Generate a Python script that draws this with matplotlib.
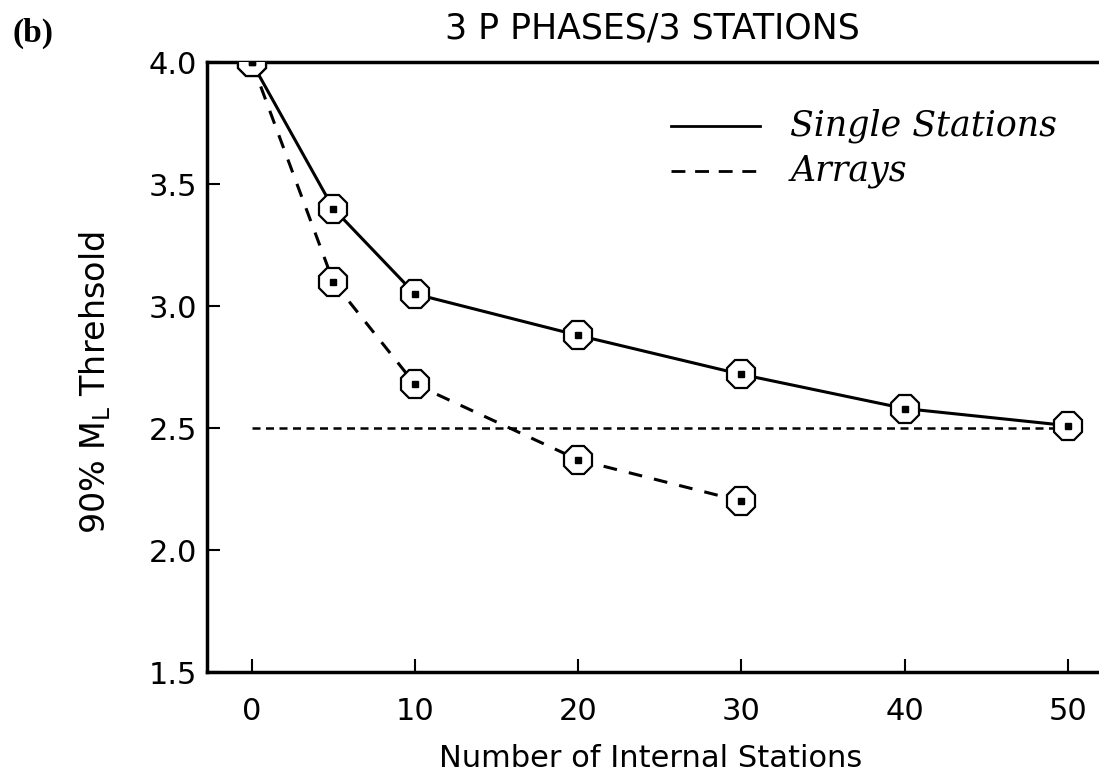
import numpy as np
import matplotlib.pyplot as plt

# values
single_x = [0, 5, 10, 20, 30, 40, 50]
single_y = [4.0, 3.40, 3.05, 2.88, 2.72, 2.58, 2.51]
array_x = [0, 5, 10, 20, 30]
array_y = [4.0, 3.10, 2.68, 2.37, 2.20]
ref_x = [0, 50]
ref_y = [2.5, 2.5]

fig = plt.figure(figsize=(10.99, 7.72), dpi=100)
ax = fig.add_axes([0.188, 0.1295, 0.812, 0.790])

ax.plot(ref_x, ref_y, color="black", lw=1.8, ls=(0, (3.2, 2.2)), zorder=1)
ax.plot(single_x, single_y, color="black", lw=2.2, zorder=2, label="Single Stations")
ax.plot(array_x, array_y, color="black", lw=2.2, ls=(0, (4.5, 4)), zorder=2, label="Arrays")

# octagon markers with a small filled square inside
for xs, ys in [(single_x, single_y), (array_x, array_y)]:
    ax.plot(xs, ys, ls="none", marker="8", ms=22, mfc="white", mec="black", mew=1.6, zorder=3)
    ax.plot(xs, ys, ls="none", marker="s", ms=5, color="black", zorder=4)

ax.set_xlim(-2.76, 51.9)
ax.set_ylim(1.5, 4.0)
ax.set_xticks([0, 10, 20, 30, 40, 50])
ax.set_yticks([1.5, 2.0, 2.5, 3.0, 3.5, 4.0])
ax.set_yticklabels(["1.5", "2.0", "2.5", "3.0", "3.5", "4.0"])
ax.tick_params(direction="in", length=9.5, width=1.5, labelsize=22)
ax.tick_params(axis="x", pad=18)
ax.tick_params(axis="y", pad=7)

for s in ["left", "bottom", "top"]:
    ax.spines[s].set_linewidth(2.5)
ax.spines["right"].set_visible(False)

ax.set_xlabel("Number of Internal Stations", fontsize=22)
ax.xaxis.set_label_coords(0.497, -0.118)
ax.set_ylabel(r"90% M$_\mathrm{L}$ Threhsold", fontsize=24)
ax.yaxis.set_label_coords(-0.105, 0.475)
ax.set_title("3 P PHASES/3 STATIONS", fontsize=25, pad=17)

fig.text(0.011, 0.946, "(b)", fontsize=24, fontweight="bold", family="Liberation Serif", va="baseline")

# legend drawn by hand to match the original layout
ax.plot([0.52, 0.62], [0.895, 0.895], transform=ax.transAxes, color="black", lw=2.0)
ax.plot([0.52, 0.62], [0.822, 0.822], transform=ax.transAxes, color="black", lw=2.0, ls=(0, (5, 3.5)))
ax.text(0.654, 0.895, "Single Stations", transform=ax.transAxes, fontsize=25,
        style="italic", family="DejaVu Serif", va="center")
ax.text(0.654, 0.822, "Arrays", transform=ax.transAxes, fontsize=25,
        style="italic", family="DejaVu Serif", va="center")

fig.savefig("out.png", dpi=100)
